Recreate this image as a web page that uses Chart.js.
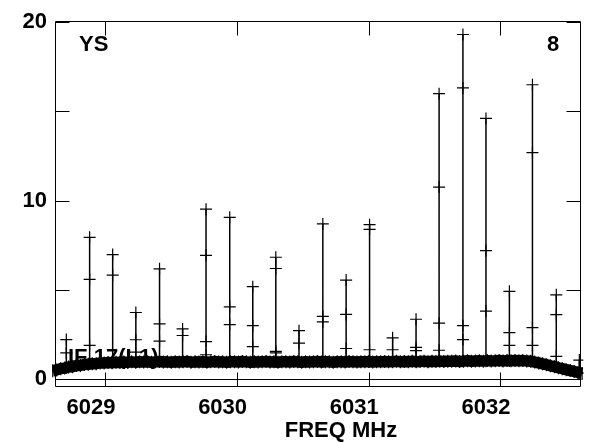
<!DOCTYPE html>
<html><head><meta charset="utf-8">
<script src="https://cdn.jsdelivr.net/npm/chart.js@4/dist/chart.umd.min.js"></script>
<style>html,body{margin:0;padding:0;background:#fff;}canvas{display:block;}</style>
</head><body>
<canvas id="c" width="589" height="442"></canvas>
<script>
// ---- data ----
const xTickValues = [6029, 6030, 6031, 6032];
const yTickValues = [0, 5, 10, 15, 20];
const yLabelValues = [0, 10, 20];
const baselineStart = 6028.60;   // MHz, first channel
const baselineStep = 0.03;       // MHz per channel
const baselineValues = [
  0.45,0.50,0.57,0.60,0.66,0.68,0.74,0.75,0.80,0.81,0.85,0.85,0.89,0.88,0.91,0.90,0.93,0.91,0.94,0.92,
  0.95,0.93,0.96,0.94,0.96,0.93,0.95,0.97,0.94,0.95,0.93,0.96,0.94,0.95,0.97,0.93,0.95,0.94,0.96,0.93,
  0.95,0.97,0.94,0.95,0.93,0.96,0.95,0.94,0.97,0.95,0.93,0.96,0.94,0.95,0.97,0.94,0.95,0.93,0.96,0.95,
  0.94,0.97,0.95,0.93,0.96,0.94,0.95,0.97,0.94,0.96,0.95,0.93,0.96,0.95,0.94,0.97,0.95,0.94,0.96,0.95,
  0.97,0.94,0.96,0.95,0.97,0.95,0.96,0.98,0.95,0.97,0.96,0.98,0.96,0.97,0.99,0.96,0.98,0.97,0.99,0.97,
  0.99,0.98,1.00,0.97,0.99,1.01,0.98,1.00,1.01,0.99,1.02,1.00,1.01,1.03,1.00,1.02,1.01,1.03,1.01,1.02,1.00,
  0.98,0.94,0.89,0.84,0.79,0.73,0.68,0.62,0.57,0.51,0.46,0.41,0.35,0.30
];
const spikeFreqs = [
  6028.703, 6028.880, 6029.055, 6029.231, 6029.411, 6029.586, 6029.764, 6029.944,
  6030.119, 6030.294, 6030.470, 6030.651, 6030.828, 6031.006, 6031.181, 6031.359,
  6031.534, 6031.715, 6031.890, 6032.068, 6032.243, 6032.424, 6032.599
];
const spikeValues = [
  [0.62, 1.45, 2.20],
  [0.84, 1.87, 5.58, 7.94],
  [0.91, 5.82, 6.97],
  [0.93, 1.50, 2.19, 3.72],
  [0.95, 2.11, 3.08, 6.17],
  [0.95, 2.43, 2.80],
  [0.95, 1.35, 2.09, 6.93, 9.52],
  [0.95, 3.04, 4.04, 9.06],
  [0.95, 1.80, 2.98, 5.17],
  [0.95, 1.45, 1.54, 6.19, 6.82],
  [0.95, 2.00, 2.70],
  [0.95, 3.19, 3.50, 8.69],
  [0.95, 1.70, 3.61, 5.54],
  [0.96, 1.63, 8.39, 8.65],
  [0.96, 1.63, 2.30],
  [0.97, 1.58, 1.76, 3.34],
  [0.98, 1.60, 3.12, 10.76, 16.00],
  [0.98, 2.20, 2.98, 16.32, 19.32],
  [0.99, 3.80, 7.19, 14.61],
  [1.00, 1.87, 2.59, 4.91],
  [1.00, 1.87, 2.87, 12.69, 16.50],
  [0.66, 1.26, 3.60, 4.71],
  [0.34, 1.05]
];
const xTitle = 'FREQ MHz';
const labelTopLeft = 'YS';
const labelTopRight = '8';
const labelInner = 'IF 17(L1)';

// ---- build ----
const FONT = '"Liberation Sans", Arial, Helvetica, sans-serif';
const baselineData = baselineValues.map((v, i) => ({x: +(baselineStart + i * baselineStep).toFixed(3), y: v}));
const spikeData = [];
spikeFreqs.forEach((f, k) => {
  spikeValues[k].forEach(v => spikeData.push({x: f, y: v}));
  spikeData.push({x: f, y: null});
});

const decor = {
  id: 'decor',
  beforeDatasetsDraw(chart) {
    const {ctx, chartArea: a, scales: {y}} = chart;
    ctx.save();
    ctx.font = 'bold 22px ' + FONT;
    ctx.fillStyle = '#000';
    ctx.textAlign = 'left';
    ctx.textBaseline = 'alphabetic';
    ctx.fillText(labelInner, a.left + 13, 364);
    ctx.strokeStyle = '#000';
    ctx.lineWidth = 1;
    const y0 = Math.round(y.getPixelForValue(0)) + 0.5;
    ctx.beginPath(); ctx.moveTo(a.left, y0); ctx.lineTo(a.right, y0); ctx.stroke();
    ctx.restore();
  },
  afterDatasetsDraw(chart) {
    const {ctx, chartArea: a, scales: {x, y}} = chart;
    ctx.save();
    ctx.strokeStyle = '#000';
    ctx.lineWidth = 1;
    const L = Math.round(a.left) + 0.5, R = Math.round(a.right) - 0.5;
    const T = Math.round(a.top) + 0.5, B = Math.round(a.bottom) - 0.5;
    ctx.beginPath();
    ctx.rect(L, T, R - L, B - T);
    xTickValues.forEach(v => {
      const px = Math.round(x.getPixelForValue(v)) + 0.5;
      ctx.moveTo(px, B); ctx.lineTo(px, B - 14);
      ctx.moveTo(px, T); ctx.lineTo(px, T + 14);
    });
    yTickValues.forEach(v => {
      const py = Math.round(y.getPixelForValue(v)) + 0.5;
      ctx.moveTo(L, py); ctx.lineTo(L + 14, py);
      ctx.moveTo(R, py); ctx.lineTo(R - 14, py);
    });
    ctx.stroke();
    ctx.font = 'bold 22px ' + FONT;
    ctx.fillStyle = '#000';
    ctx.textBaseline = 'alphabetic';
    ctx.textAlign = 'left';
    ctx.fillText(labelTopLeft, a.left + 24, 51);
    ctx.textAlign = 'right';
    ctx.fillText(labelTopRight, a.right - 22, 51);
    ctx.textAlign = 'center';
    ctx.fillText(xTitle, 341, 437);
    ctx.restore();
  }
};

new Chart(document.getElementById('c'), {
  type: 'scatter',
  data: {
    datasets: [
      {
        label: 'spikes',
        data: spikeData,
        showLine: true,
        spanGaps: false,
        borderColor: '#000',
        borderWidth: 1.5,
        pointStyle: 'cross',
        pointRadius: 6,
        pointBorderWidth: 1.2,
        pointBorderColor: '#000',
        pointBackgroundColor: '#000',
        clip: {left: 3, right: 2, top: 0, bottom: 0}
      },
      {
        label: 'baseline',
        data: baselineData,
        showLine: true,
        borderColor: '#000',
        borderWidth: 11.5,
        borderJoinStyle: 'round',
        pointStyle: 'cross',
        pointRadius: 6.5,
        pointBorderWidth: 1.2,
        pointBorderColor: '#000',
        clip: {left: 3, right: 2, top: 0, bottom: 0}
      }
    ]
  },
  options: {
    responsive: false,
    animation: false,
    devicePixelRatio: 1,
    layout: {padding: {left: 0, right: 2, top: 17.5, bottom: 0}},
    plugins: {legend: {display: false}, tooltip: {enabled: false}},
    scales: {
      x: {
        type: 'linear',
        position: 'bottom',
        min: 6028.617,
        max: 6032.614,
        afterBuildTicks: s => { s.ticks = xTickValues.map(v => ({value: v})); },
        afterFit: s => { s.height = 55; },
        ticks: {
          autoSkip: false, maxRotation: 0, minRotation: 0,
          labelOffset: -14.5, padding: 8, color: '#000',
          font: {family: FONT, size: 22, weight: 'bold'},
          callback: v => String(v)
        },
        grid: {display: false, drawTicks: false},
        border: {display: false}
      },
      y: {
        type: 'linear',
        position: 'left',
        min: -0.461,
        max: 20.067,
        afterBuildTicks: s => { s.ticks = yTickValues.map(v => ({value: v})); },
        afterFit: s => { s.width = 55; },
        ticks: {
          padding: 8, color: '#000',
          font: {family: FONT, size: 22, weight: 'bold'},
          callback: v => yLabelValues.includes(v) ? String(v) : ''
        },
        grid: {display: false, drawTicks: false},
        border: {display: false}
      }
    }
  },
  plugins: [decor]
});
</script>
</body></html>
